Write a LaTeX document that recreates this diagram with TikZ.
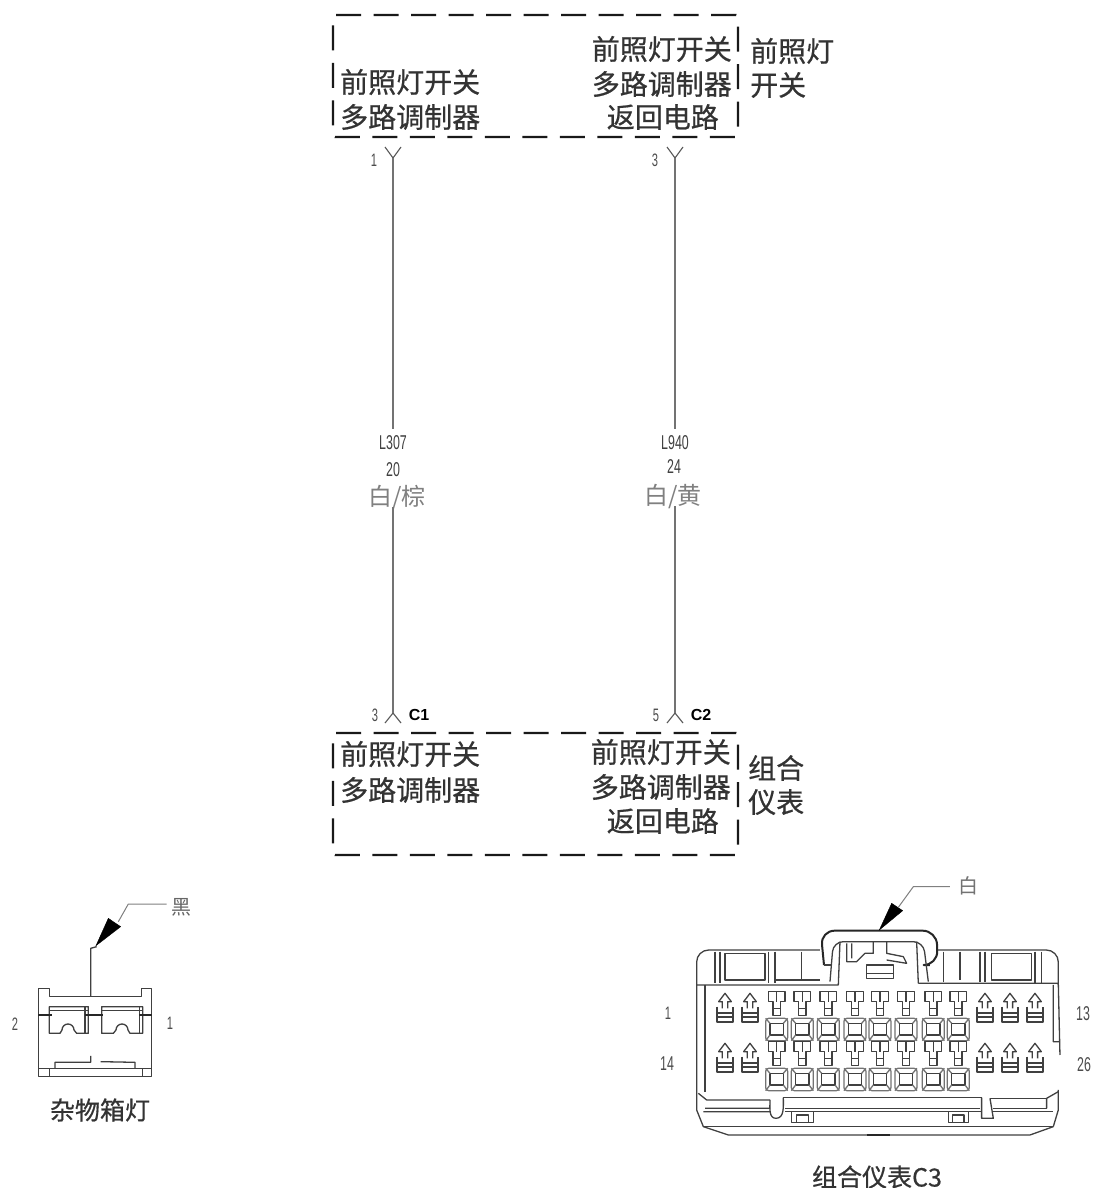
\documentclass[tikz,border=0pt]{standalone}
\usepackage{fontspec}
\setmainfont{Liberation Sans}
\newfontfamily\cjk{Noto Sans CJK SC}
\newfontfamily\cjkb[FakeBold=0.6]{Noto Sans CJK SC}
\newfontfamily\narrowfont[FakeStretch=0.62]{Liberation Sans}
\tikzset{
  box/.style={draw=black!90,line width=2.4pt,dash pattern=on 25pt off 12.5pt,minimum width=405pt,minimum height=122pt,inner sep=0pt,rounded corners=2pt},
  cn/.style={font=\cjkb\fontsize{28}{28}\selectfont,text=black!80,inner sep=0pt},
  wlab/.style={font=\cjk\fontsize{24}{24}\selectfont,text=black!50,inner sep=0pt},
  code/.style={font=\narrowfont\fontsize{20}{20}\selectfont,text=black!75,inner sep=1pt},
  pin/.style={font=\narrowfont\fontsize{18}{18}\selectfont,text=black!70,inner sep=0pt},
  cid/.style={font=\bfseries\fontsize{16}{16}\selectfont,text=black,inner sep=0pt},
  wire/.style={draw=black!55,line width=1.1pt},
  fork/.style={draw=black!65,line width=1.1pt},
  part/.style={draw=black!75,line width=1.3pt,line join=round},
  thick part/.style={draw=black!85,line width=2pt,line join=round},
  tag/.style={fill=black,draw=black},
  lead/.style={draw=black!50,line width=1pt},
  arrowterm/.pic={
    \draw[part] (-8,50)--(-8,30)--(-19,30)--(0,5)--(19,30)--(8,30)--(8,50);
    \draw[part,line width=1.8pt] (-25,45)--(-25,90)--(25,90)--(25,45);
    \draw[part,line width=1.8pt] (-25,65)--(25,65) (-20,77)--(20,77);
  },
  squareterm/.pic={
    \draw[part] (-25,0)--(25,0)--(25,30)--(11,30)--(11,72)--(-11,72)--(-11,30)--(-25,30)--cycle;
    \draw[part] (0,0)--(0,30) (-11,50)--(11,50);
    \draw[part,draw=black!55,rounded corners=3pt] (-33,80) rectangle (33,147);
    \draw[part] (-20,95) rectangle (20,130);
    \draw[part,draw=black!55] (-33,80)--(-20,95) (33,80)--(20,95) (-33,147)--(-20,130) (33,147)--(20,130);
  }
}
\begin{document}
\begin{tikzpicture}[x=1pt,y=-1pt]
\useasboundingbox[fill=white] (0,0) rectangle (1095,1188);

% upper unit
\node[box] (topbox) at (535.5,76) {};
\node[cn,anchor=west] (t1) at (340,82) {前照灯开关};
\node[cn,anchor=west] (t2) at (340,117) {多路调制器};
\node[cn,anchor=east] (t3) at (732,49) {前照灯开关};
\node[cn,anchor=east] (t4) at (732,84) {多路调制器};
\node[cn,anchor=east] (t5) at (719,117) {返回电路};
\node[cn,anchor=west] (t6) at (750,51) {前照灯};
\node[cn,anchor=west] (t7) at (750,85) {开关};

% lower unit
\node[box] (botbox) at (535.5,794) {};
\node[cn,anchor=west] (b1) at (340,754) {前照灯开关};
\node[cn,anchor=west] (b2) at (340,790) {多路调制器};
\node[cn,anchor=east] (b3) at (731,752) {前照灯开关};
\node[cn,anchor=east] (b4) at (731,787) {多路调制器};
\node[cn,anchor=east] (b5) at (719,821) {返回电路};
\node[cn,anchor=west] (b6) at (748,768) {组合};
\node[cn,anchor=west] (b7) at (748,802) {仪表};

% pin forks
\coordinate (pa) at (393,158);
\coordinate (pb) at (675,158);
\coordinate (pc) at (393,713);
\coordinate (pd) at (675,713);
\draw[fork] (385,147)--(pa)--(401,147);
\draw[fork] (667,147)--(pb)--(683,147);
\draw[fork] (385,723)--(pc)--(401,723);
\draw[fork] (667,723)--(pd)--(683,723);
\node[pin] (n1) at (374,160) {1};
\node[pin] (n2) at (655,160) {3};
\node[pin] (n3) at (375,715) {3};
\node[pin] (n4) at (656,715) {5};
\node[cid] (c1) at (419,715) {C1};
\node[cid] (c2) at (701,715) {C2};

% wire labels
\node[code] (l1) at (393,443) {L307};
\node[code] (l2) at (393,470) {20};
\node[wlab] (l3) at (397,498) {白/棕};
\node[code] (r1) at (675,443) {L940};
\node[code] (r2) at (674,467) {24};
\node[wlab] (r3) at (673,497) {白/黄};
\draw[wire,shorten >=6pt] (pa)--(l1.north-|pa);
\draw[wire,shorten >=-3pt] (pc)--(l3.south-|pc);
\draw[wire,shorten >=6pt] (pb)--(r1.north-|pb);
\draw[wire,shorten >=-3pt] (pd)--(r3.south-|pd);

% small connector
\begin{scope}[shift={(0,880)},x=0.3333pt,y=-0.3333pt]
  \draw[part] (115,590)--(115,325)--(148,325)--(148,350)--(425,350)--(425,325)--(455,325)--(455,590)--cycle;
  \draw[part] (115,565)--(455,565) (148,565)--(148,590) (428,565)--(428,590);
  \draw[part] (148,460)--(148,380)--(265,380)--(265,460)--(230,460)--(222,450) arc[start angle=0,end angle=-180,radius=18]--(180,460)--cycle;
  \draw[part] (305,460)--(305,380)--(428,380)--(428,460)--(390,460)--(384,450) arc[start angle=0,end angle=-180,radius=18]--(340,460)--cycle;
  \draw[part] (148,392)--(265,392) (305,392)--(428,392) (255,380)--(255,460) (418,380)--(418,460);
  \draw[thick part] (115,405)--(155,405) (255,405)--(310,405) (418,405)--(455,405);
  \draw[part] (165,565)--(165,547)--(272,547)--(272,528) (302,545)--(405,547)--(405,565);
  \draw[part] (272,350)--(272,205)--(290,200);
  \fill[tag] (288,197)--(325,115)--(362,140)--cycle;
  \draw[lead] (355,125)--(385,72)--(500,72);
\end{scope}
\node[wlab,text=black!60,font=\cjk\fontsize{20}{20}\selectfont] (hei) at (181,907) {黑};
\node[pin] (q2) at (15,1024) {2};
\node[pin] (q1) at (170,1023) {1};
\node[cn,font=\cjkb\fontsize{25}{25}\selectfont] (cap1) at (100,1110) {杂物箱灯};

% 26-pin connector
\begin{scope}[shift={(670,870)},x=0.3333pt,y=-0.3333pt]
  % shell
  \draw[part,rounded corners=12pt] (80,345)--(80,240)--(450,240);
  \draw[part,rounded corners=12pt] (803,240)--(1165,240)--(1165,345);
  \draw[part] (80,345)--(505,345)--(510,215);
  \draw[part] (745,340)--(1165,340) (745,340)--(740,215);
  \draw[thick part,rounded corners=14pt] (462,285)--(452,182)--(800,182)--(803,285)--(780,285);
  \draw[part,rounded corners=10pt] (480,335)--(490,215)--(760,215)--(775,335);
  \draw[part] (462,285)--(485,285);
  % roof details
  \draw[part] (135,245)--(135,340) (150,245)--(150,340);
  \draw[part] (165,250) rectangle (285,330);
  \draw[part] (295,245)--(295,340) (315,245)--(315,340) (395,245)--(395,330);
  \draw[part] (315,330)--(450,330);
  \draw[part] (820,245)--(820,335) (870,245)--(870,330) (930,245)--(930,335) (945,245)--(945,335);
  \draw[part] (965,250) rectangle (1085,330);
  \draw[part] (1095,245)--(1095,340) (1115,245)--(1115,340);
  \draw[part] (530,220)--(530,275)--(560,275)--(585,250)--(610,250)--(610,215);
  \draw[part] (545,220)--(545,265) (650,215)--(650,250)--(700,260)--(710,280)--(650,270);
  \draw[part] (590,325)--(590,285)--(670,285)--(670,325)--cycle (590,310)--(670,310);
  % side walls
  \draw[part] (80,345)--(80,720)--(100,770);
  \draw[part] (105,345)--(105,665);
  \draw[part] (1165,340)--(1170,555) (1150,345)--(1150,515)--(1168,515);
  \draw[part] (1165,660)--(1165,720)--(1150,770);
  % bottom rail
  \draw[part] (100,770)--(1150,770);
  \draw[part] (100,770)--(175,795)--(1080,795)--(1150,770);
  \draw[thick part] (590,795)--(660,795);
  \draw[part] (85,670)--(110,690)--(300,690) (105,715)--(300,715) (100,725)--(300,725);
  \draw[part] (340,683)--(935,683) (345,715)--(930,715) (345,725)--(935,725);
  \draw[part] (960,685)--(1130,685) (970,715)--(1130,715) (970,725)--(1150,725);
  \draw[part] (1130,715)--(1130,685)--(1165,665);
  \draw[part] (300,690) to[out=-90,in=180] (318,745) to[out=0,in=-90] (340,683);
  \draw[part] (935,683)--(935,745)--(970,745)--(960,685);
  \draw[part] (365,725)--(365,757)--(430,757)--(430,725) (380,735) rectangle (415,757);
  \draw[part] (835,725)--(835,757)--(895,757)--(895,725) (848,735) rectangle (882,757);
  % terminals
  \foreach \x in {165,240,945,1020,1095} {
    \pic at (\x,365) {arrowterm};
    \pic at (\x,515) {arrowterm};
  }
  \foreach \x in {320,397,475,555,630,708,790,865} {
    \pic at (\x,365) {squareterm};
    \pic at (\x,515) {squareterm};
  }
  % wire tag
  \fill[tag] (628,180)--(665,100)--(698,122)--cycle;
  \draw[lead] (685,112)--(730,50)--(840,50);
\end{scope}
\node[wlab,text=black!55,font=\cjk\fontsize{20}{20}\selectfont] (bai) at (968,886) {白};
\node[pin] (q3) at (668,1013) {1};
\node[pin,font=\narrowfont\fontsize{20}{20}\selectfont] (q4) at (1083,1014) {13};
\node[pin,font=\narrowfont\fontsize{20}{20}\selectfont] (q5) at (667,1064) {14};
\node[pin,font=\narrowfont\fontsize{20}{20}\selectfont] (q6) at (1084,1065) {26};
\node[cn,font=\cjkb\fontsize{25}{25}\selectfont] (cap2) at (877,1177) {组合仪表C3};
\end{tikzpicture}
\end{document}
